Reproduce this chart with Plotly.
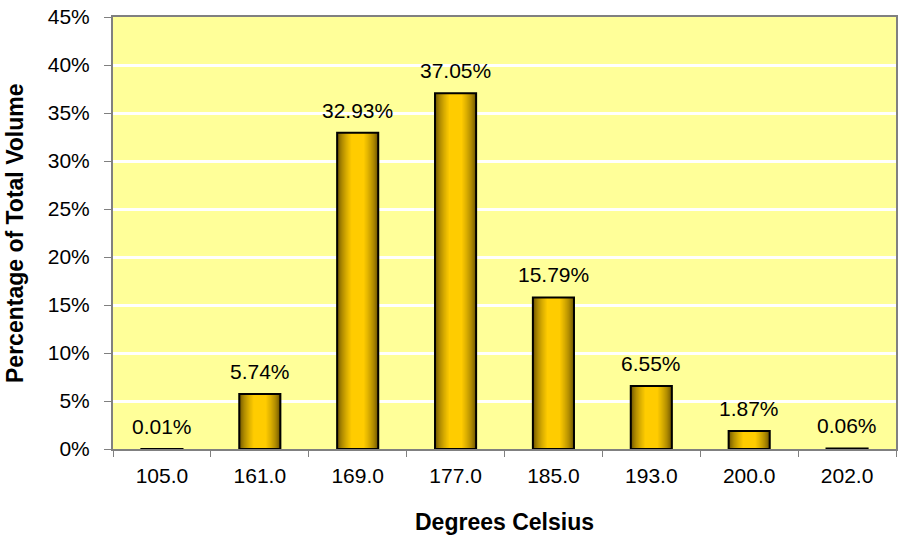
import plotly.graph_objects as go

categories = ["105.0", "161.0", "169.0", "177.0", "185.0", "193.0", "200.0", "202.0"]
values = [0.01, 5.74, 32.93, 37.05, 15.79, 6.55, 1.87, 0.06]
labels = [f"{v:.2f}%" for v in values]
y_ticks = [0, 5, 10, 15, 20, 25, 30, 35, 40, 45]
y_tick_text = [f"{t}%" for t in y_ticks]

FONT = "Liberation Sans, Arial, sans-serif"
BAR_W = 0.42
TXT = 21
TTL = 23

fig = go.Figure()

# gradient layers (dark edge -> bright centre) drawn as concentric bars
n_layers = 14
dark = (96, 74, 0)
bright = (255, 204, 0)
for k in range(n_layers):
    t = k / (n_layers - 1)
    w = BAR_W * (1 - 0.68 * t)
    c = t ** 0.6
    col = tuple(int(dark[i] + (bright[i] - dark[i]) * c) for i in range(3))
    fig.add_trace(go.Bar(
        x=categories, y=values, width=w,
        marker=dict(color=f"rgb{col}", line=dict(width=0)),
        hoverinfo="skip", showlegend=False,
    ))

# outline on top
fig.add_trace(go.Bar(
    x=categories, y=values, width=BAR_W,
    marker=dict(color="rgba(0,0,0,0)", line=dict(color="black", width=2)),
    showlegend=False,
))

annotations = []
for i, (v, lab) in enumerate(zip(values, labels)):
    annotations.append(dict(
        x=i, y=v, xref="x", yref="y", text=lab, showarrow=False,
        yanchor="bottom", yshift=9, font=dict(family=FONT, size=TXT, color="black"),
    ))

annotations.append(dict(
    x=0.5, y=-0.169, xref="paper", yref="paper", text="<b>Degrees Celsius</b>",
    showarrow=False, xanchor="center", yanchor="middle",
    font=dict(family=FONT, size=TTL, color="black"),
))
annotations.append(dict(
    x=-0.1252, y=0.5, xref="paper", yref="paper", text="<b>Percentage of Total Volume</b>",
    showarrow=False, xanchor="center", yanchor="middle", textangle=-90,
    font=dict(family=FONT, size=TTL, color="black"),
))

fig.update_layout(
    width=898, height=537,
    margin=dict(l=113, r=2, t=17, b=88),
    paper_bgcolor="white",
    plot_bgcolor="#FFFF99",
    barmode="overlay",
    font=dict(family=FONT, size=TXT, color="black"),
    annotations=annotations,
    xaxis=dict(
        type="category", range=[-0.5, len(categories) - 0.5],
        tickson="boundaries", ticks="outside", ticklen=6,
        tickcolor="#808080", tickwidth=1, tickangle=0,
        showline=True, linecolor="#808080", linewidth=2, mirror=True,
        showgrid=False, ticklabelstandoff=7, automargin=False,
        tickfont=dict(family=FONT, size=TXT, color="black"),
    ),
    yaxis=dict(
        range=[0, 45], tickvals=y_ticks, ticktext=y_tick_text,
        ticks="outside", ticklen=7, tickcolor="#808080", tickwidth=1,
        showline=True, linecolor="#808080", linewidth=2, mirror=True,
        showgrid=True, gridcolor="white", gridwidth=3,
        zeroline=False, ticklabelstandoff=10, automargin=False,
        tickfont=dict(family=FONT, size=TXT, color="black"),
    ),
)

fig.write_html(
    "out.html",
    config={"displayModeBar": False},
    post_script="document.body.style.margin='0';document.body.style.overflow='hidden';",
)
